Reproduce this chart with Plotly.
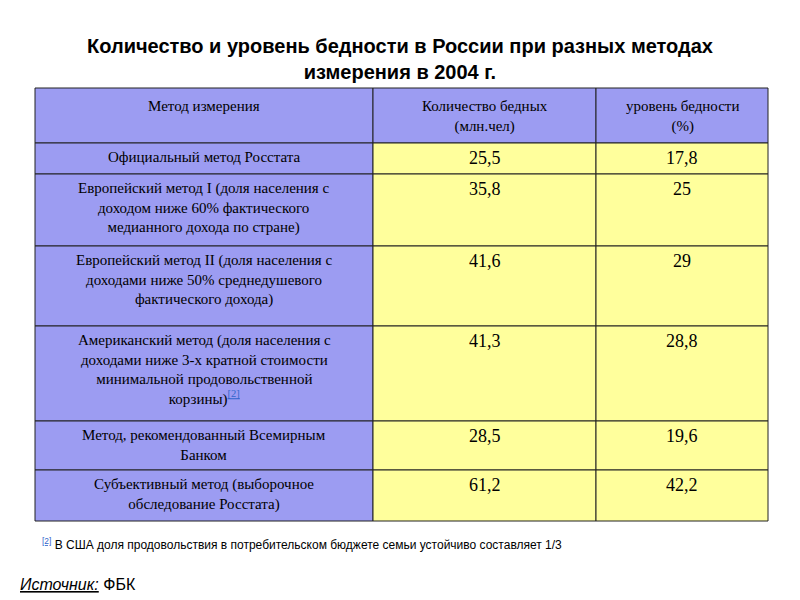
import plotly.graph_objects as go

headers = ["Метод измерения", "Количество бедных<br>(млн.чел)", "уровень бедности<br>(%)"]
methods = [
    "Официальный метод Росстата",
    "Европейский метод I (доля населения с<br>доходом ниже 60% фактического<br>медианного дохода по стране)",
    "Европейский метод II (доля населения с<br>доходами ниже 50% среднедушевого<br>фактического дохода)",
    "Американский метод (доля населения с<br>доходами ниже 3-х кратной стоимости<br>минимальной продовольственной<br>корзины)<sup><span style='color:#3366cc'><u>[2]</u></span></sup>",
    "Метод, рекомендованный Всемирным<br>Банком",
    "Субъективный метод (выборочное<br>обследование Росстата)",
]
poor_count = ["25,5", "35,8", "41,6", "41,3", "28,5", "61,2"]
poverty_level = ["17,8", "25", "29", "28,8", "19,6", "42,2"]

OFF = 8
col_x = [c - OFF for c in [35, 373, 596, 768]]
row_y = [r - OFF for r in [88, 143, 174, 246, 326, 421, 470, 521]]
BLUE = "#9c9cf2"
YEL = "#ffff9c"
serif = "Liberation Serif"

fig = go.Figure()
fig.add_trace(go.Scatter(x=[0, 800], y=[0, 600], mode="markers", marker=dict(opacity=0), hoverinfo="skip", showlegend=False))
shapes, ann = [], []
nrows = len(methods) + 1
for r in range(nrows):
    y0, y1 = row_y[r], row_y[r + 1]
    for c in range(3):
        fill = BLUE if (r == 0 or c == 0) else YEL
        shapes.append(dict(type="rect", x0=col_x[c], x1=col_x[c + 1], y0=y0, y1=y1,
                           fillcolor=fill, line=dict(color="#222", width=1), layer="below"))
    if r == 0:
        texts = headers
        sizes = [15, 15, 15]
        pad = [8, 8, 8]
    else:
        texts = [methods[r - 1], poor_count[r - 1], poverty_level[r - 1]]
        sizes = [15, 18, 18]
        pad = [4, 3, 3]
    for c in range(3):
        ann.append(dict(x=(col_x[c] + col_x[c + 1]) / 2, y=y0 + pad[c], text=texts[c],
                        xref="x", yref="y", xanchor="center", yanchor="top", showarrow=False,
                        font=dict(family=serif, size=sizes[c], color="#000"), align="center"))

ann.append(dict(x=400 - OFF, y=33 - OFF, xref="x", yref="y", yanchor="top", showarrow=False,
                text="<b>Количество и уровень бедности в России при разных методах<br>измерения в 2004 г.</b>",
                font=dict(family="Liberation Sans", size=20, color="#000"), align="center"))
ann.append(dict(x=40 - OFF, y=544 - OFF, xref="x", yref="y", xanchor="left", yanchor="middle", showarrow=False,
                text="<sup><span style='color:#3366cc'><u>[2]</u></span></sup> В США доля продовольствия в потребительском бюджете семьи устойчиво составляет 1/3",
                font=dict(family="Liberation Sans", size=12, color="#000")))
ann.append(dict(x=18 - OFF, y=584 - OFF, xref="x", yref="y", xanchor="left", yanchor="middle", showarrow=False,
                text="<i><u>Источник:</u></i> ФБК",
                font=dict(family="Liberation Sans", size=16, color="#000")))

fig.update_layout(width=800, height=600, margin=dict(l=0, r=0, t=0, b=0),
                  plot_bgcolor="white", paper_bgcolor="white", shapes=shapes, annotations=ann,
                  xaxis=dict(range=[0, 800], visible=False, fixedrange=True),
                  yaxis=dict(range=[600, 0], visible=False, fixedrange=True))
fig.write_html("out.html")
